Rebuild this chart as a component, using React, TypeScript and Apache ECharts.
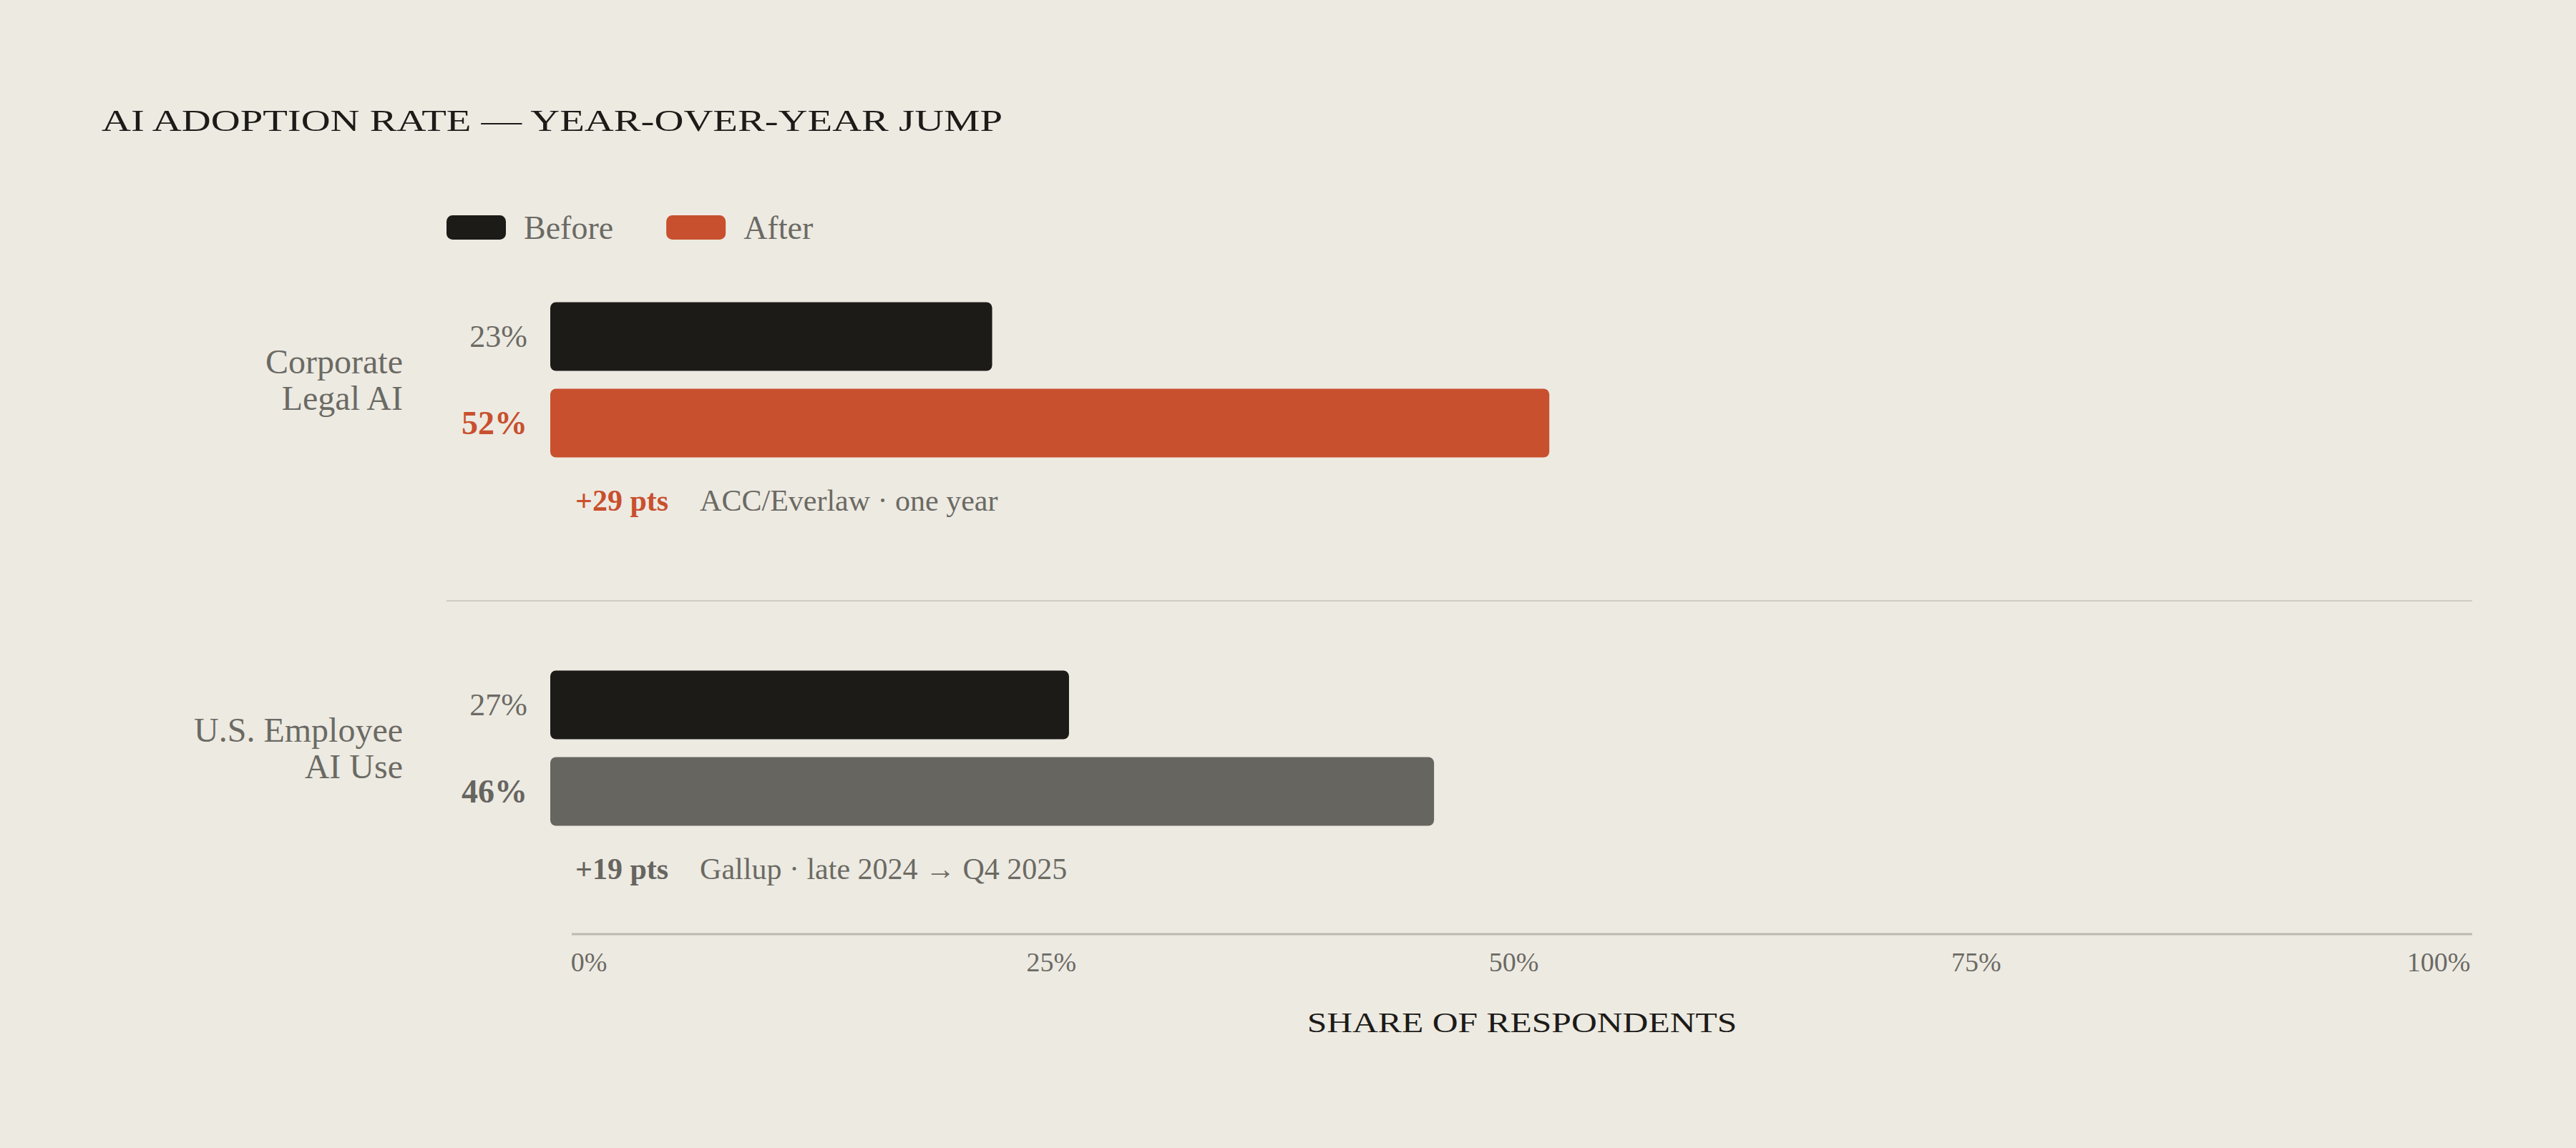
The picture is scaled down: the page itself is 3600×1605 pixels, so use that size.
import { useEffect, useRef } from 'react'
import * as echarts from 'echarts'

const groups = ['Corporate\nLegal AI', 'U.S. Employee\nAI Use']
const seriesNames = ['Before', 'After']
const beforeValues = [23, 27]
const afterValues = [52, 46]
const sources = ['ACC/Everlaw · one year', 'Gallup · late 2024 → Q4 2025']
const xTicks = [0, 25, 50, 75, 100]

const BG = '#edeae2'
const DARK = '#1c1b18'
const RED = '#c8502e'
const MUTED = '#66655f'
const GRAY = '#6b6a64'
const FONT = "'Liberation Serif', 'Times New Roman', serif"
const afterColors = [RED, MUTED]

const gridTops = [410, 925]
const bandHeight = 121

export default function App() {
  const chartRef = useRef<HTMLDivElement>(null)

  useEffect(() => {
    if (!chartRef.current) return
    document.body.style.margin = '0'
    const chart = echarts.init(chartRef.current, undefined, { renderer: 'svg' })

    const grids = gridTops.map((top) => ({ left: 769, width: 2685, top, height: bandHeight * 2 }))
    // tick labels are spread evenly between the ends of the axis rule
    grids.push({ left: 823, width: 2585, top: 1200, height: 106 })

    const xAxes: any[] = gridTops.map((_, i) => ({
      type: 'value', gridIndex: i, min: 0, max: 100, show: false,
    }))
    xAxes.push({
      type: 'value',
      gridIndex: 2,
      min: xTicks[0],
      max: xTicks[xTicks.length - 1],
      interval: xTicks[1] - xTicks[0],
      axisLine: { show: false },
      axisTick: { show: false },
      splitLine: { show: false },
      axisLabel: {
        formatter: '{value}%',
        color: GRAY,
        fontSize: 38,
        fontFamily: FONT,
        margin: 20,
      },
    })

    const yAxes: any[] = gridTops.map((_, i) => ({
      type: 'category', gridIndex: i, inverse: true, data: seriesNames, show: false,
    }))
    yAxes.push({ type: 'value', gridIndex: 2, show: false })

    const series: any[] = []
    groups.forEach((_, i) => {
      series.push({
        name: 'Before',
        type: 'bar',
        xAxisIndex: i,
        yAxisIndex: i,
        barWidth: 96,
        barGap: '-100%',
        data: [beforeValues[i], '-'],
        itemStyle: { color: DARK, borderRadius: 8 },
        label: {
          show: true, position: 'left', distance: 32, formatter: '{c}%',
          fontSize: 44, color: GRAY, fontFamily: FONT,
        },
      })
      series.push({
        name: 'After',
        type: 'bar',
        xAxisIndex: i,
        yAxisIndex: i,
        barWidth: 96,
        barGap: '-100%',
        data: ['-', afterValues[i]],
        itemStyle: { color: afterColors[i], borderRadius: 8 },
        label: {
          show: true, position: 'left', distance: 32, formatter: '{c}%',
          fontSize: 46, fontWeight: 'bold', color: afterColors[i], fontFamily: FONT,
        },
      })
    })

    const graphics: any[] = [
      {
        type: 'text',
        left: 142,
        top: 148,
        scaleX: 1.35,
        style: { text: 'AI ADOPTION RATE — YEAR-OVER-YEAR JUMP', fill: DARK, fontSize: 42, fontFamily: FONT },
      },
      {
        type: 'line',
        shape: { x1: 624, y1: 840, x2: 3455, y2: 840 },
        style: { stroke: '#cfccc4', lineWidth: 2 },
      },
      {
        type: 'line',
        shape: { x1: 799, y1: 1306, x2: 3455, y2: 1306 },
        style: { stroke: '#bcb9b1', lineWidth: 3 },
      },
      {
        type: 'text',
        x: 2127,
        y: 1430,
        scaleX: 1.24,
        style: {
          text: 'SHARE OF RESPONDENTS', fill: DARK, fontSize: 40, fontFamily: FONT,
          align: 'center', verticalAlign: 'middle',
        },
      },
    ]
    groups.forEach((g, i) => {
      graphics.push({
        type: 'text',
        x: 563,
        y: gridTops[i] + bandHeight,
        style: {
          text: g, fill: GRAY, fontSize: 48, lineHeight: 51, fontFamily: FONT,
          align: 'right', verticalAlign: 'middle',
        },
      })
      graphics.push({
        type: 'text',
        x: 804,
        y: gridTops[i] + bandHeight * 2 + 48,
        style: {
          text: `{d|+${afterValues[i] - beforeValues[i]} pts}{s|${sources[i]}}`,
          verticalAlign: 'middle',
          rich: {
            d: { fill: afterColors[i], fontSize: 42, fontWeight: 'bold', fontFamily: FONT },
            s: { fill: GRAY, fontSize: 42, fontFamily: FONT, padding: [0, 0, 0, 44] },
          },
        },
      })
    })

    chart.setOption({
      animation: false,
      backgroundColor: BG,
      legend: {
        left: 624,
        top: 295,
        padding: 0,
        icon: 'roundRect',
        itemWidth: 83,
        itemHeight: 34,
        itemGap: 74,
        data: [
          { name: 'Before', itemStyle: { color: DARK } },
          { name: 'After', itemStyle: { color: RED } },
        ],
        textStyle: { color: GRAY, fontSize: 46, fontFamily: FONT, padding: [0, 0, 0, 20] },
      },
      grid: grids,
      xAxis: xAxes,
      yAxis: yAxes,
      series,
      graphic: graphics,
    })

    return () => {
      chart.dispose()
    }
  }, [])

  return <div ref={chartRef} style={{ width: 3600, height: 1605, background: BG }} />
}
